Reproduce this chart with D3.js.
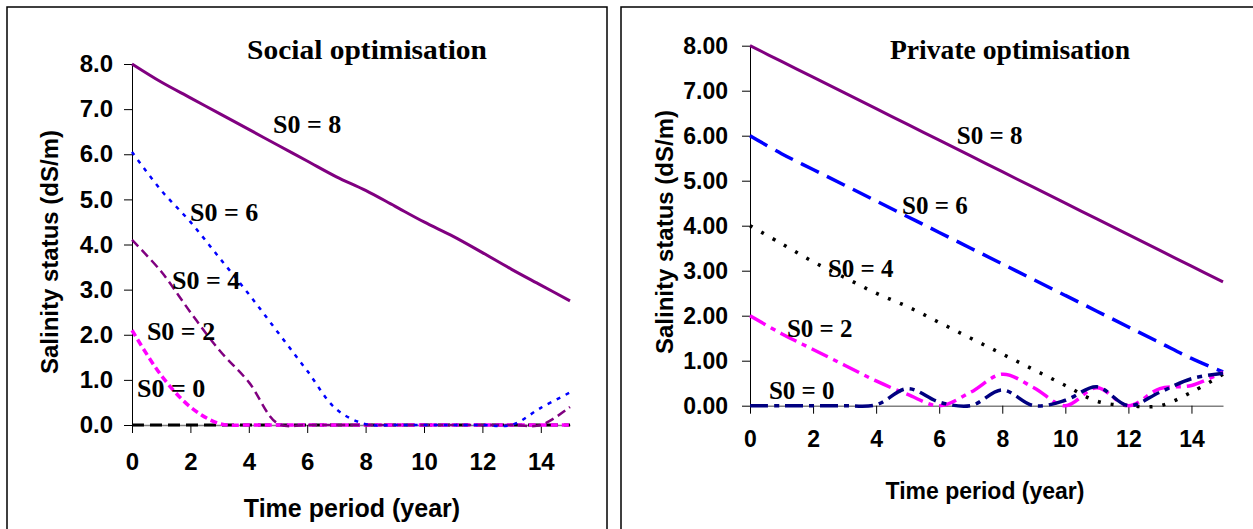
<!DOCTYPE html>
<html><head><meta charset="utf-8">
<script src="https://cdn.jsdelivr.net/npm/d3@7"></script>
<style>body{margin:0;background:#fff}svg{display:block}</style>
</head><body>
<svg id="c" width="1253" height="529"></svg>
<script>
// ---------- data ----------
const years = d3.range(0, 16);
const xTicks = [0, 2, 4, 6, 8, 10, 12, 14];
const yTicks = [0, 1, 2, 3, 4, 5, 6, 7, 8];

// Social optimisation
const social_S8 = [8.0, 7.6, 7.25, 6.9, 6.55, 6.2, 5.85, 5.5, 5.2, 4.85, 4.5, 4.18, 3.82, 3.45, 3.1, 2.75];
const social_S6 = [6.05, 5.2, 4.5, 3.7, 2.9, 2.05, 1.2, 0.35, 0.02, 0, 0, 0, 0, 0, 0.38, 0.72];
const social_S4 = [4.1, 3.4, 2.5, 1.65, 0.95, 0.03, 0, 0, 0, 0, 0, 0, 0, 0, 0, 0.4];
const social_S2 = [2.1, 1.1, 0.4, 0.03, 0, 0, 0, 0, 0, 0, 0, 0, 0, 0, 0, 0];
const social_S0 = [0, 0, 0, 0, 0, 0, 0, 0, 0, 0, 0, 0, 0, 0, 0, 0];

// Private optimisation
const private_S8 = [8.0, 7.65, 7.3, 6.95, 6.6, 6.25, 5.9, 5.55, 5.2, 4.85, 4.5, 4.15, 3.8, 3.45, 3.1, 2.75];
const private_S6 = [6.0, 5.6, 5.25, 4.9, 4.55, 4.2, 3.85, 3.5, 3.15, 2.8, 2.45, 2.1, 1.75, 1.4, 1.05, 0.75];
const private_S4 = [4.0, 3.6, 3.2, 2.85, 2.5, 2.2, 1.85, 1.5, 1.15, 0.8, 0.45, 0.1, 0.0, 0.0, 0.3, 0.7];
const private_S2 = [2.0, 1.6, 1.25, 0.9, 0.55, 0.25, 0.0, 0.3, 0.7, 0.4, 0.0, 0.4, 0.0, 0.38, 0.45, 0.75];
const private_S0 = [0, 0, 0, 0, 0.02, 0.38, 0.08, 0.0, 0.35, 0.0, 0.12, 0.42, 0.0, 0.3, 0.6, 0.72];

const labelsText = ["S0 = 8", "S0 = 6", "S0 = 4", "S0 = 2", "S0 = 0"];
const socialLabelX = [4.83, 1.99, 1.37, 0.51, 0.17];
const socialLabelY = [6.47, 4.52, 3.02, 1.88, 0.62];
const privateLabelX = [6.56, 4.82, 2.47, 1.17, 0.60];
const privateLabelY = [5.82, 4.26, 2.86, 1.53, 0.15];

// ---------- drawing ----------
const svg = d3.select("#c");
const SANS = "Liberation Sans, Arial, sans-serif";
const SERIF = "Liberation Serif, Times New Roman, serif";

function panel(opt) {
  const g = svg.append("g");
  g.append("rect").attr("x", opt.frame[0]).attr("y", opt.frame[1])
    .attr("width", opt.frame[2]).attr("height", opt.frame[3])
    .attr("fill", "none").attr("stroke", "#000").attr("stroke-width", 1.5);

  const x = d3.scaleLinear().domain([0, 15]).range([opt.x0, opt.x1]);
  const y = d3.scaleLinear().domain([0, 8]).range([opt.y0, opt.y1]);

  const ya = g.append("g").attr("transform", `translate(${opt.x0},0)`)
    .call(d3.axisLeft(y).tickValues(yTicks).tickSize(8).tickSizeOuter(0)
      .tickFormat(d => d3.format(opt.fmt)(d)));
  ya.select(".domain").attr("stroke", "#000");
  ya.selectAll("line").attr("stroke", "#000");
  ya.selectAll("text").attr("font-family", SANS)
    .attr("font-weight", "bold").attr("font-size", opt.tickFont).attr("fill", "#000").attr("dx", opt.ylabDx);

  const xa = g.append("g").attr("transform", `translate(0,${opt.y0})`)
    .call(d3.axisBottom(x).tickValues(xTicks).tickSize(8).tickSizeOuter(0));
  xa.select(".domain").attr("stroke", "#808080").attr("stroke-width", 1.5);
  xa.selectAll("line").attr("stroke", "#000");
  xa.selectAll("text").attr("font-family", SANS)
    .attr("font-weight", "bold").attr("font-size", opt.tickFont).attr("fill", "#000").attr("dy", opt.xlabDy);

  const line = d3.line().x((d, i) => x(years[i])).y(d => y(d)).curve(d3.curveCatmullRom.alpha(0.5));
  opt.series.forEach(s => {
    g.append("path").datum(s.values).attr("d", line)
      .attr("fill", "none").attr("stroke", s.color).attr("stroke-width", s.width)
      .attr("stroke-dasharray", s.dash || null).attr("stroke-linecap", "butt");
  });

  labelsText.forEach((t, i) => {
    g.append("text").attr("x", x(opt.lx[i])).attr("y", y(opt.ly[i]))
      .attr("font-family", SERIF).attr("font-weight", "bold")
      .attr("font-size", opt.labFont).text(t);
  });

  g.append("text").attr("x", opt.titleX).attr("y", opt.titleY).attr("text-anchor", "middle")
    .attr("font-family", SERIF).attr("font-weight", "bold")
    .attr("font-size", 28).attr("textLength", 240).attr("lengthAdjust", "spacingAndGlyphs")
    .text(opt.title);

  g.append("text").attr("x", opt.xtX).attr("y", opt.xtY).attr("text-anchor", "middle")
    .attr("font-family", SANS).attr("font-weight", "bold")
    .attr("font-size", opt.xtFont).text("Time period (year)");
  g.append("text").attr("transform", `translate(${opt.ytX},${opt.ytY}) rotate(-90)`).attr("text-anchor", "middle")
    .attr("font-family", SANS).attr("font-weight", "bold")
    .attr("font-size", 24).text("Salinity status (dS/m)");
}

panel({
  frame: [7, 7, 600, 540], x0: 132, x1: 570, y0: 425, y1: 64, fmt: ".1f",
  tickFont: 24, xlabDy: 34, ylabDx: -8, labFont: 26, xtFont: 25,
  title: "Social optimisation", titleX: 367, titleY: 59,
  xtX: 352, xtY: 517, ytX: 58, ytY: 252,
  lx: socialLabelX, ly: socialLabelY,
  series: [
    { values: social_S0, color: "#000000", width: 3, dash: "12,6" },
    { values: social_S2, color: "#FF00FF", width: 3.5, dash: "7,4" },
    { values: social_S4, color: "#800080", width: 2.5, dash: "9,5" },
    { values: social_S6, color: "#0000FF", width: 2.5, dash: "4,6" },
    { values: social_S8, color: "#800080", width: 3 }
  ]
});

panel({
  frame: [621, 7, 640, 540], x0: 750, x1: 1223, y0: 405.7, y1: 45.7, fmt: ".2f",
  tickFont: 23, xlabDy: 30, ylabDx: -11, labFont: 25, xtFont: 23,
  title: "Private optimisation", titleX: 1010, titleY: 59,
  xtX: 985, xtY: 499, ytX: 673, ytY: 232,
  lx: privateLabelX, ly: privateLabelY,
  series: [
    { values: private_S8, color: "#800080", width: 3 },
    { values: private_S6, color: "#0000FF", width: 3.5, dash: "20,9" },
    { values: private_S4, color: "#000000", width: 3.5, dash: "3,10" },
    { values: private_S2, color: "#FF00FF", width: 3.5, dash: "18,6,5,6" },
    { values: private_S0, color: "#000080", width: 3.5, dash: "18,6,5,6" }
  ]
});
</script>
</body></html>
